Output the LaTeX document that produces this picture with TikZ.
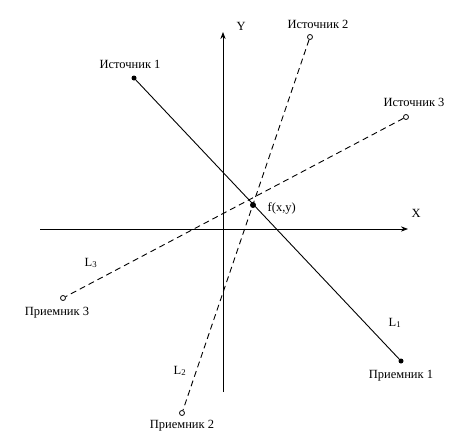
\documentclass[tikz,border=0pt]{standalone}
\usepackage{fontspec}
\setmainfont{Liberation Serif}
\usetikzlibrary{positioning,arrows.meta}

\begin{document}
\begin{tikzpicture}[
x=1pt, y=-1pt, >=Stealth, node distance=4pt, font=\fontsize{12.5}{14}\selectfont,
axis/.style={->, line width=0.9pt},
beam/.style={line width=0.9pt},
dbeam/.style={line width=0.9pt, dash pattern=on 6pt off 4pt},
full/.style={circle, fill, inner sep=0pt, minimum size=5pt},
hollow/.style={circle, draw, fill=white, line width=0.8pt, inner sep=0pt, minimum size=5pt}
]
\useasboundingbox (0,0) rectangle (464,439);
% axes
\coordinate (xl) at (40,229);
\coordinate (xr) at (408,229);
\coordinate (yb) at (223,392);
\coordinate (yt) at (223,32);
\draw[axis] (xl) -- (xr);
\draw[axis] (yb) -- (yt);
\node[above right=8pt and 0pt of xr] (xlab) {X};
\node[right=10pt of yt, yshift=6pt] (ylab) {Y};
% sources and receivers
\node[full] (s1) at (134,78) {};
\node[full] (r1) at (401,361) {};
\node[hollow] (s2) at (310,37) {};
\node[hollow] (r2) at (182,413) {};
\node[hollow] (s3) at (406,117) {};
\node[hollow] (r3) at (63,298) {};
\draw[beam] (s1) -- (r1);
\draw[dbeam] (s2) -- (r2);
\draw[dbeam] (s3) -- (r3);
\node[full, minimum size=6pt] (f) at (253,205) {};
\node[right=8pt of f, yshift=-3pt] (flab) {f(x,y)};
% labels
\node[above=3pt of s1, xshift=-4pt] (s1lab) {Источник 1};
\node[above=2pt of s2, xshift=8pt] (s2lab) {Источник 2};
\node[above=4pt of s3, xshift=8pt] (s3lab) {Источник 3};
\node[below=3pt of r1] (r1lab) {Приемник 1};
\node[below=1pt of r2] (r2lab) {Приемник 2};
\node[below=3pt of r3, xshift=-6pt] (r3lab) {Приемник 3};
\node (l1) at (395,323) {L\textsubscript{1}};
\node (l2) at (180,371) {L\textsubscript{2}};
\node (l3) at (91,263) {L\textsubscript{3}};
\end{tikzpicture}
\end{document}
